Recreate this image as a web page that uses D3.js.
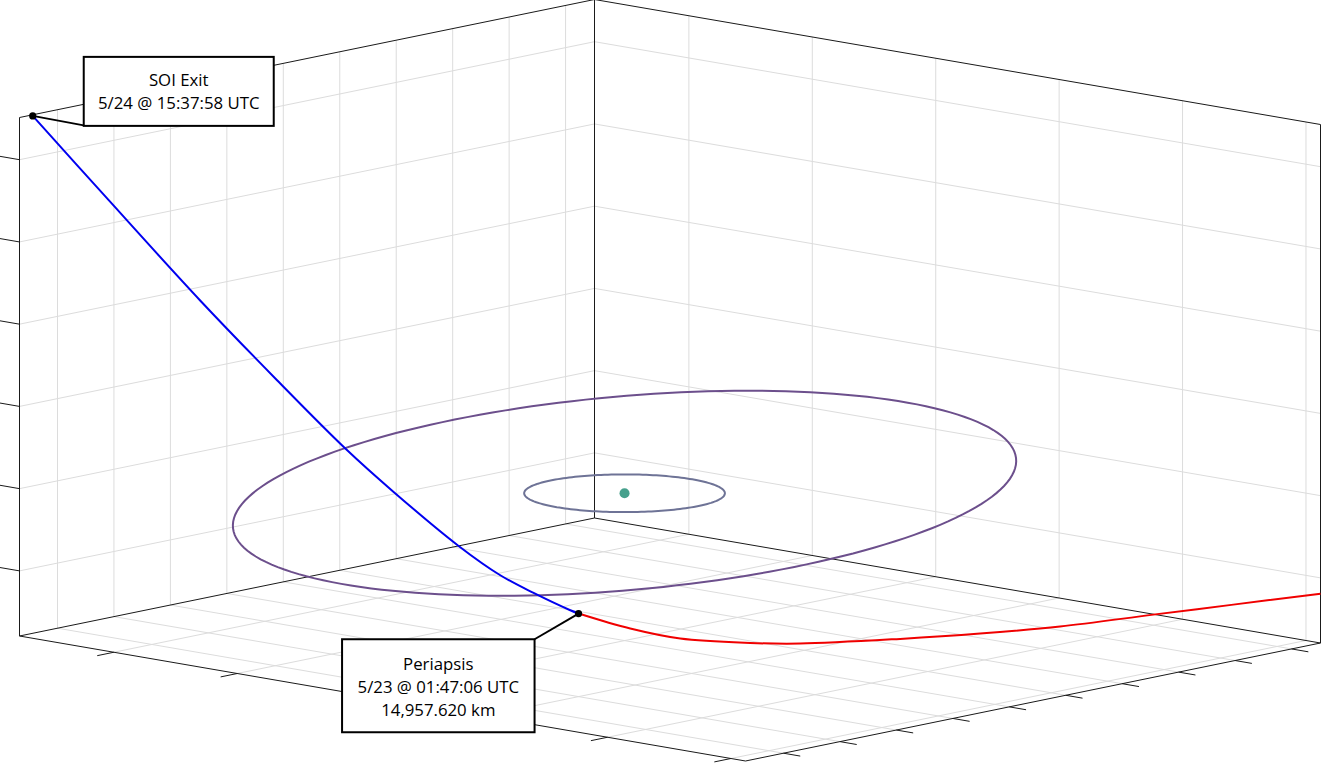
<!DOCTYPE html>
<html><head><meta charset="utf-8">
<script src="https://cdn.jsdelivr.net/npm/d3@7"></script>
<style>body{margin:0;background:#fff;}svg{display:block;}</style>
</head><body>
<svg id="chart" width="1322" height="763"></svg>
<script>
// ---- axis limits (km, planet-centred frame, axis tight) ----
const xLim = [-55123, 46731];
const yLim = [-55294, 62353];
const zLim = [-17919, 45132];
const xTicks = [-50000, -40000, -30000, -20000, -10000, 0, 10000, 20000, 30000, 40000];
const yTicks = [-40000, -20000, 0, 20000, 40000, 60000];
const zTicks = [-10000, 0, 10000, 20000, 30000, 40000];

// ---- outbound leg: periapsis -> SOI exit (km) ----
const outX = [4534, 5177, 7998, 10543, 13681, 18513, 22081, 27077, 32668, 39314, 44815];
const outY = [-3301, -4058, -7422, -10488, -14373, -20482, -25042, -31537, -38847, -47622, -54902];
const outZ = [-14416, -14021, -11954, -9839, -6335, 123, 5315, 13486, 22998, 35022, 45109];

// ---- inbound leg: periapsis -> SOI entry (km) ----
const inX = [4534, 494, -3445, -9026, -13031, -21083, -27535, -33999, -41564, -48048, -55123];
const inY = [-3301, 1378, 5874, 12106, 16541, 25374, 32430, 39475, 47667, 54694, 62353];
const inZ = [-14416, -16204, -17395, -17913, -17978, -17401, -16755, -15893, -14455, -13246, -11916];

// ---- central body and moon orbits ----
const bodyRadius = 600;                 // km
const moonNames = ["Mun", "Minmus"];
const moonSma = [12000, 47000];          // km
const moonInc = [0, 6];                  // deg
const moonLan = [0, 78];                 // deg

// ---- events ----
const periapsisAlt = 14957.620;
const soiExitLabel = ["SOI Exit", "5/24 @ 15:37:58 UTC"];
const periLabel = ["Periapsis", "5/23 @ 01:47:06 UTC"];

// ---- styling / layout ----
const moonColors = ["#6e7396", "#6c4f8c"];
const bodyColor = "#46a08c";
const gridColor = "#dcdcdc";
const edgeColor = "#1a1a1a";
const B = {x: 594.5, y: 518}, L = {x: 19.5, y: 636}, R = {x: 1320.5, y: 643}, H = 518.5;

const svg = d3.select("#chart");
svg.append("rect").attr("width", 1322).attr("height", 763).attr("fill", "#fff");

const u = d3.scaleLinear().domain(xLim).range([0, 1]);
const v = d3.scaleLinear().domain(yLim).range([0, 1]);
const w = d3.scaleLinear().domain(zLim).range([0, H]);
function P(x, y, z) {
  const a = u(x), b = v(y);
  return [B.x + a * (L.x - B.x) + b * (R.x - B.x), B.y + a * (L.y - B.y) + b * (R.y - B.y) - w(z)];
}
function seg(g, p, q, color, width) {
  g.append("line").attr("x1", p[0]).attr("y1", p[1]).attr("x2", q[0]).attr("y2", q[1])
    .attr("stroke", color).attr("stroke-width", width);
}
const [x0, x1] = xLim, [y0, y1] = yLim, [z0, z1] = zLim;

// grid
const grid = svg.append("g");
xTicks.forEach(x => { seg(grid, P(x, y0, z0), P(x, y0, z1), gridColor, 1); seg(grid, P(x, y0, z0), P(x, y1, z0), gridColor, 1); });
yTicks.forEach(y => { seg(grid, P(x0, y, z0), P(x0, y, z1), gridColor, 1); seg(grid, P(x0, y, z0), P(x1, y, z0), gridColor, 1); });
zTicks.forEach(z => { seg(grid, P(x0, y0, z), P(x1, y0, z), gridColor, 1); seg(grid, P(x0, y0, z), P(x0, y1, z), gridColor, 1); });

// box edges
const box = svg.append("g");
[[P(x0,y0,z0),P(x0,y0,z1)], [P(x1,y0,z0),P(x1,y0,z1)], [P(x0,y1,z0),P(x0,y1,z1)],
 [P(x0,y0,z1),P(x1,y0,z1)], [P(x0,y0,z1),P(x0,y1,z1)],
 [P(x0,y0,z0),P(x1,y0,z0)], [P(x0,y0,z0),P(x0,y1,z0)],
 [P(x1,y0,z0),P(x1,y1,z0)], [P(x0,y1,z0),P(x1,y1,z0)]].forEach(e => seg(box, e[0], e[1], edgeColor, 1));

// ticks
function dirOf(p, q, len) { const dx = q[0]-p[0], dy = q[1]-p[1], n = Math.hypot(dx, dy); return [dx/n*len, dy/n*len]; }
const dY = dirOf(P(x0,y0,z0), P(x0,y1,z0), 17);
const dX = dirOf(P(x0,y0,z0), P(x1,y0,z0), 17);
xTicks.forEach(x => { const p = P(x, y1, z0); seg(box, p, [p[0]+dY[0], p[1]+dY[1]], edgeColor, 1); });
yTicks.forEach(y => { const p = P(x1, y, z0); seg(box, p, [p[0]+dX[0], p[1]+dX[1]], edgeColor, 1); });
const dZ = dirOf(P(x0,y0,z0), P(x0,y1,z0), 20);
zTicks.forEach(z => { const p = P(x1, y0, z); seg(box, p, [p[0]-dZ[0], p[1]-dZ[1]], edgeColor, 1); });

// moon orbits
const rad = Math.PI / 180;
const line = d3.line();
const orbits = svg.append("g");
moonNames.forEach((name, k) => {
  const r = moonSma[k], i = moonInc[k]*rad, O = moonLan[k]*rad;
  const pts = d3.range(0, 361, 2).map(t => {
    const th = t*rad;
    return P(r*(Math.cos(O)*Math.cos(th) - Math.sin(O)*Math.cos(i)*Math.sin(th)),
             r*(Math.sin(O)*Math.cos(th) + Math.cos(O)*Math.cos(i)*Math.sin(th)),
             r*Math.sin(i)*Math.sin(th));
  });
  orbits.append("path").attr("d", line(pts)).attr("fill", "none")
    .attr("stroke", moonColors[k]).attr("stroke-width", 2).attr("data-name", name);
});

// central body
const o = P(0, 0, 0);
const pxPerKm = Math.hypot(P(1000,0,0)[0]-o[0], P(0,1000,0)[0]-o[0]) / 1000;
svg.append("circle").attr("cx", o[0]).attr("cy", o[1]).attr("r", bodyRadius*pxPerKm).attr("fill", bodyColor);

// trajectory
const curve = d3.line().curve(d3.curveCatmullRom.alpha(0.5));
const outPts = outX.map((x, k) => P(x, outY[k], outZ[k]));
const inPts = inX.map((x, k) => P(x, inY[k], inZ[k]));
svg.append("path").attr("d", curve(outPts)).attr("fill", "none").attr("stroke", "#0000f0").attr("stroke-width", 2);
svg.append("path").attr("d", curve(inPts)).attr("fill", "none").attr("stroke", "#f00000").attr("stroke-width", 2);

// annotations
function annotate(pt, left, top, wd, ht, corner, lines, lineY) {
  const g = svg.append("g");
  seg(g, pt, corner, "#000", 2);
  g.append("circle").attr("cx", pt[0]).attr("cy", pt[1]).attr("r", 3.6).attr("fill", "#000");
  g.append("rect").attr("x", left).attr("y", top).attr("width", wd).attr("height", ht)
    .attr("fill", "#fff").attr("stroke", "#000").attr("stroke-width", 2);
  lines.forEach((t, k) => g.append("text").attr("x", left + wd/2).attr("y", top + lineY[k])
    .attr("text-anchor", "middle").attr("dominant-baseline", "central")
    .attr("font-family", "'Open Sans', 'Noto Sans', sans-serif").attr("font-size", 16.8).attr("fill", "#000").text(t));
}
const ePt = outPts[outPts.length - 1];
annotate(ePt, ePt[0] + 51, ePt[1] - 59, 190, 69, [ePt[0] + 51, ePt[1] + 9.5], soiExitLabel, [23, 46]);
const pPt = outPts[0];
const pl = periLabel.concat([d3.format(",.3f")(periapsisAlt) + " km"]);
annotate(pPt, pPt[0] - 236.5, pPt[1] + 25.7, 192.5, 93, [pPt[0] - 44, pPt[1] + 25.7], pl, [24.3, 47.7, 70.3]);
</script>
</body></html>
